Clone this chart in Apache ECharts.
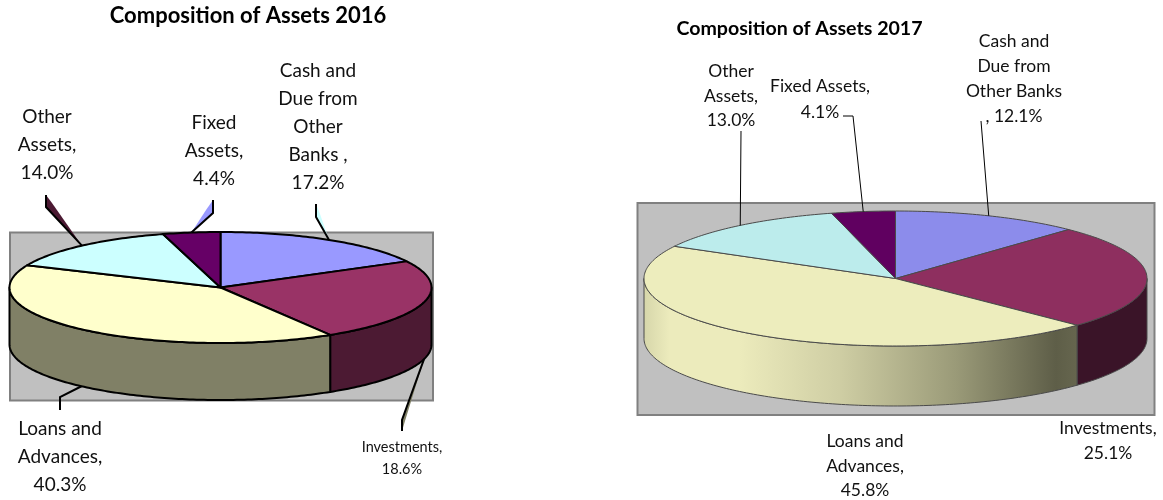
<!DOCTYPE html>
<html>
<head>
<meta charset="utf-8">
<style>html,body{margin:0;padding:0;background:#fff}#chart{width:1163px;height:500px}</style>
<script src="https://cdn.jsdelivr.net/npm/echarts@6/dist/echarts.min.js"></script>
</head>
<body>
<div id="chart"></div>
<script>
const categories = ['Cash and Due from Other Banks', 'Investments', 'Loans and Advances', 'Other Assets', 'Fixed Assets'];
// Slice shares as drawn. In 2016 the Investments slice is visibly larger than its printed label (18.6%).
const shares2016 = [17.2, 24.1, 40.3, 14.0, 4.4];
const shares2017 = [12.1, 25.1, 45.8, 13.0, 4.1];
const labels2016 = ['Cash and\nDue from\nOther\nBanks ,\n17.2%', 'Investments,\n18.6%', 'Loans and\nAdvances,\n40.3%', 'Other\nAssets,\n14.0%', 'Fixed\nAssets,\n4.4%'];
const labels2017 = ['Cash and\nDue from\nOther Banks\n, 12.1%', 'Investments,\n25.1%', 'Loans and\nAdvances,\n45.8%', 'Other\nAssets,\n13.0%', 'Fixed Assets,\n4.1%'];
const titles = ['Composition of Assets 2016', 'Composition of Assets 2017'];

const FONT = 'Lato, "Open Sans", sans-serif';

const look2016 = {
  cx: 220.5, cy: 287.5, rx: 211, ry: 55.5, depth: 57,
  frame: [10, 232.5, 423, 168],
  edge: '#000', edgeWidth: 2, leaderWidth: 2,
  top: ['#9999ff', '#993366', '#ffffcc', '#ccffff', '#660066'],
  wall: [null, '#4c1a33', '#808066', null, null],
  place: [
    { x: 318, y: 127, size: 19, lh: 28, anchor: 'top', path: [[316, 217], [316, 204]], sh: [4, -3], shc: '#ccffff' },
    { x: 402, y: 458, size: 14.5, lh: 22, anchor: 'wall', path: [[402, 420], [402, 431]], sh: [3, 1], shc: '#808066' },
    { x: 60, y: 457, size: 19, lh: 28, anchor: 'wall', path: [[60, 397], [60, 410]] },
    { x: 47, y: 145, size: 19, lh: 28, anchor: 'top', path: [[46, 207], [46, 195]], sh: [6, -4], shc: '#4c1a33' },
    { x: 214, y: 151, size: 19, lh: 28, anchor: 'top', path: [[213, 213], [213, 200]], sh: [-7, -3], shc: '#9999ff' }
  ]
};
const look2017 = {
  cx: 895.5, cy: 278.5, rx: 251.5, ry: 67.5, depth: 60,
  frame: [637.5, 203, 517, 212],
  edge: '#4a4a4a', edgeWidth: 1, leaderWidth: 1,
  top: ['#8c8ceb', '#8e2f5f', '#ededbd', '#bcecec', '#600060'],
  wall: [null, '#3a1428', {
    type: 'linear', x: 0, y: 0, x2: 1, y2: 0,
    colorStops: [
      { offset: 0, color: '#d6d6aa' }, { offset: 0.06, color: '#ecebbc' }, { offset: 0.22, color: '#ecebbc' },
      { offset: 0.45, color: '#cfcea4' }, { offset: 0.72, color: '#9a9a78' }, { offset: 0.95, color: '#5e5e48' },
      { offset: 1, color: '#66664e' }
    ]
  }, null, null],
  place: [
    { x: 1014, y: 78.5, size: 17.5, lh: 25, anchor: 'top', path: [[981, 121]] },
    { x: 1108, y: 440.5, size: 17.5, lh: 25, anchor: null, path: [] },
    { x: 865, y: 466, size: 17.5, lh: 24.5, anchor: null, path: [] },
    { x: 731, y: 96, size: 17.5, lh: 24.5, anchor: 'top', path: [[741, 131]] },
    { x: 820, y: 99, size: 17.5, lh: 26, anchor: 'top', path: [[853, 116], [843, 116]] }
  ]
};

function point(look, deg, drop) {
  const a = deg * Math.PI / 180;
  return [look.cx + look.rx * Math.sin(a), look.cy - look.ry * Math.cos(a) + (drop || 0)];
}
function arc(look, from, to, drop) {
  const pts = [];
  const n = Math.max(2, Math.ceil(Math.abs(to - from)));
  for (let i = 0; i <= n; i++) pts.push(point(look, from + (to - from) * i / n, drop));
  return pts;
}

function pieSeries(shares, labels, look) {
  const total = shares.reduce((a, b) => a + b, 0);
  return {
    type: 'custom',
    coordinateSystem: 'none',
    silent: true,
    z: 5,
    data: shares.map((v, i) => [v, i]),
    renderItem(params, api) {
      const i = api.value(1);
      let before = 0;
      for (let k = 0; k < i; k++) before += shares[k];
      const start = before / total * 360;
      const end = (before + api.value(0)) / total * 360;
      const mid = (start + end) / 2;
      const kids = [];
      const stroke = { stroke: look.edge, lineWidth: look.edgeWidth, lineJoin: 'round' };
      const wFrom = Math.max(start, 90), wTo = Math.min(end, 270);
      if (wTo > wFrom && look.wall[i]) {
        kids.push({
          type: 'polygon',
          shape: { points: arc(look, wFrom, wTo, 0).concat(arc(look, wTo, wFrom, look.depth)) },
          style: Object.assign({ fill: look.wall[i] }, stroke)
        });
      }
      kids.push({
        type: 'polygon',
        shape: { points: [[look.cx, look.cy]].concat(arc(look, start, end, 0)) },
        style: Object.assign({ fill: look.top[i] }, stroke)
      });
      const p = look.place[i];
      if (p.anchor) {
        const from = point(look, mid, p.anchor === 'wall' ? look.depth : 0);
        const pts = [from].concat(p.path);
        if (p.sh) {
          const el = p.path[0], tip = p.path[p.path.length - 1];
          kids.push({
            type: 'polygon',
            shape: { points: [tip, [el[0] + p.sh[0], el[1] + p.sh[1]], from, el] },
            style: { fill: p.shc }
          });
        }
        kids.push({
          type: 'polyline',
          shape: { points: pts },
          style: { fill: null, stroke: '#000', lineWidth: look.leaderWidth }
        });
      }
      kids.push({
        type: 'text',
        style: {
          text: labels[i], x: p.x, y: p.y, align: 'center', verticalAlign: 'middle',
          fontFamily: FONT, fontSize: p.size, lineHeight: p.lh, fill: '#111'
        }
      });
      return { type: 'group', children: kids };
    }
  };
}

const frameRect = look => ({
  type: 'rect', z: 0, silent: true,
  shape: { x: look.frame[0], y: look.frame[1], width: look.frame[2], height: look.frame[3] },
  style: { fill: '#c0c0c0', stroke: '#808080', lineWidth: 2 }
});

const chart = echarts.init(document.getElementById('chart'), null, { renderer: 'canvas' });
chart.setOption({
  animation: false,
  backgroundColor: '#fff',
  title: [
    { text: titles[0], left: 243, top: 0, textAlign: 'center',
      textStyle: { fontFamily: FONT, fontWeight: 'bold', fontSize: 22, color: '#000' } },
    { text: titles[1], left: 794.5, top: 14, textAlign: 'center',
      textStyle: { fontFamily: FONT, fontWeight: 'bold', fontSize: 19.6, color: '#000' } }
  ],
  graphic: [frameRect(look2016), frameRect(look2017)],
  series: [pieSeries(shares2016, labels2016, look2016), pieSeries(shares2017, labels2017, look2017)]
});
</script>
</body>
</html>
